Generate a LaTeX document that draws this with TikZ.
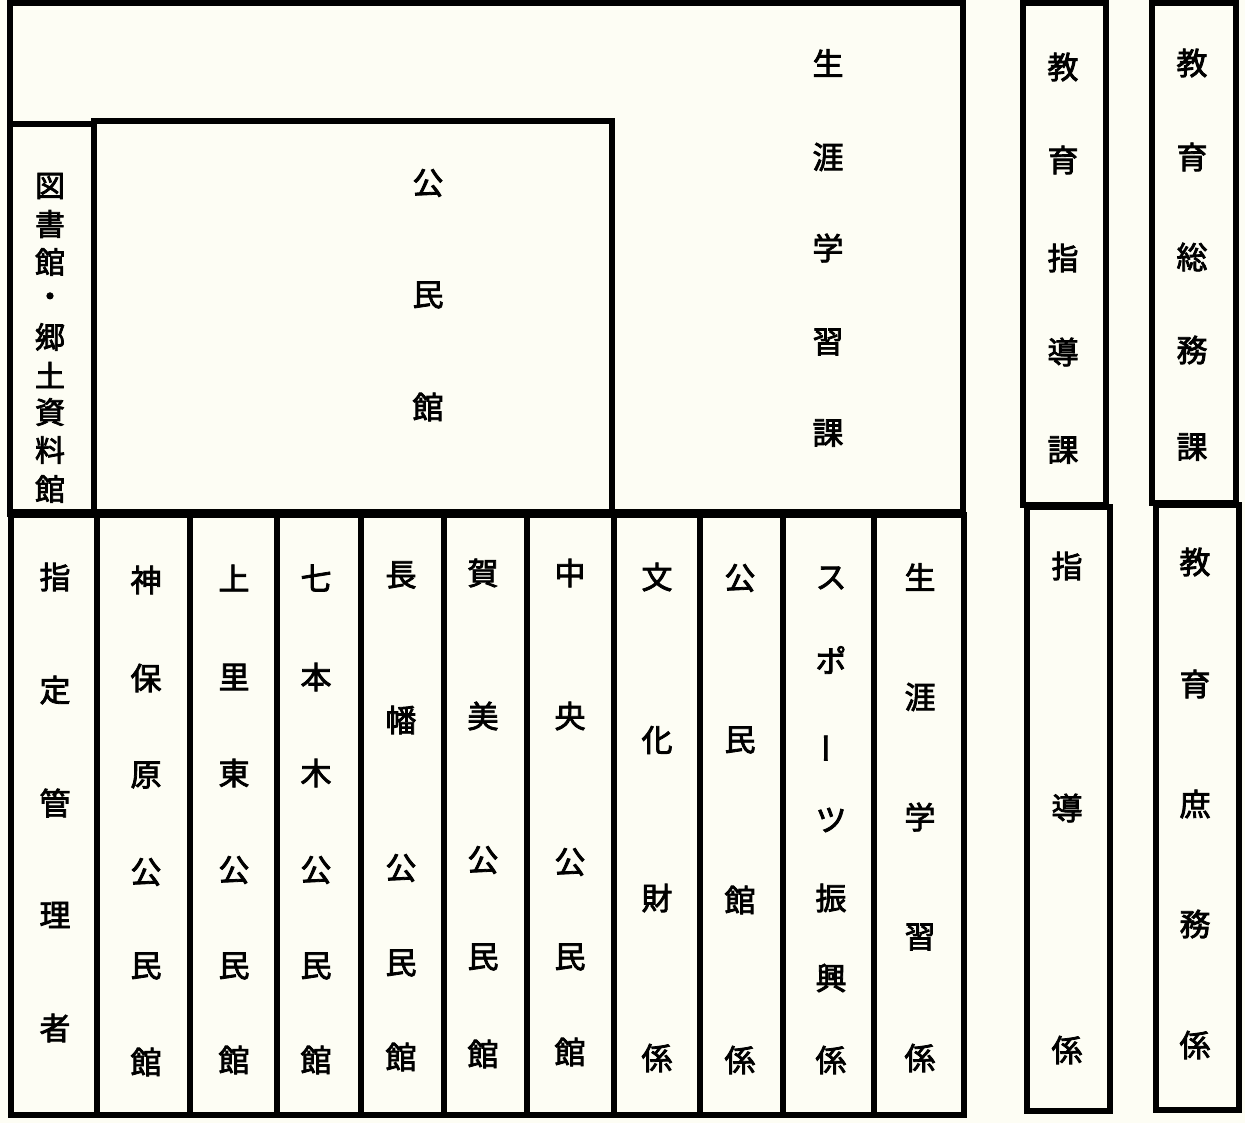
\documentclass[tikz,border=0pt]{standalone}
\usepackage{fontspec}
\newfontfamily\jpfont{Noto Sans CJK JP}[FakeBold=2.6]
\usetikzlibrary{positioning}
\definecolor{paper}{RGB}{253,253,244}
\tikzset{
  unitbox/.style={draw, line width=2.6pt, inner sep=0pt},
  kanji/.style={font=\jpfont\fontsize{15.5pt}{15.5pt}\selectfont, inner sep=0pt},
  smallkanji/.style={font=\jpfont\fontsize{15pt}{15pt}\selectfont, inner sep=0pt},
}

\begin{document}
\begin{tikzpicture}[x=0.5pt, y=-0.5pt]
  \fill[paper] (0,0) rectangle (1245,1123);
  \useasboundingbox (0,0) rectangle (1245,1123);
  % Top: the section and its two facilities
  \node[unitbox, minimum width=476.5pt, minimum height=254.5pt] at (486.5,257.5) (sec) {};
  \node[unitbox, minimum width=42pt, minimum height=195pt] at (52,319) (lib) {};
  \node[unitbox, minimum width=259pt, minimum height=195.5pt] at (353,316.5) (kmk) {};
  % Bottom row: halls and sub-units
  \node[unitbox, minimum width=43pt, minimum height=300pt] at (54,815) (c1) {};
  \node[unitbox, minimum width=46.5pt, minimum height=300pt] at (143.5,815) (c2) {};
  \node[unitbox, minimum width=43.5pt, minimum height=300pt] at (233.5,815) (c3) {};
  \node[unitbox, minimum width=42pt, minimum height=300pt] at (319,815) (c4) {};
  \node[unitbox, minimum width=41.5pt, minimum height=300pt] at (402.5,815) (c5) {};
  \node[unitbox, minimum width=41.5pt, minimum height=300pt] at (485.5,815) (c6) {};
  \node[unitbox, minimum width=43.5pt, minimum height=300pt] at (570.5,815) (c7) {};
  \node[unitbox, minimum width=43pt, minimum height=300pt] at (657,815) (c8) {};
  \node[unitbox, minimum width=41.5pt, minimum height=300pt] at (741.5,815) (c9) {};
  \node[unitbox, minimum width=45.5pt, minimum height=300pt] at (828.5,815) (c10) {};
  \node[unitbox, minimum width=45pt, minimum height=300pt] at (919,815) (c11) {};
  % Right: the other two sections
  \node[unitbox, minimum width=41.5pt, minimum height=251pt] at (1064.5,254) (shido) {};
  \node[unitbox, minimum width=41.5pt, minimum height=302pt] at (1068.5,809) (shidok) {};
  \node[unitbox, minimum width=42pt, minimum height=250pt] at (1194,253) (somu) {};
  \node[unitbox, minimum width=41.5pt, minimum height=302.5pt] at (1197.5,807.5) (shomu) {};
  % Labels, one glyph per line
  \foreach \ch/\y [count=\i] in {生/63,涯/157,学/248,習/342,課/433}
    \node[kanji] (sec-\i) at (828,\y) {\ch};
  \foreach \ch/\y [count=\i] in {図/186,書/224,館/262,・/300,郷/337,土/375,資/412,料/450,館/489}
    \node[smallkanji] (lib-\i) at (50,\y) {\ch};
  \foreach \ch/\y [count=\i] in {公/183,民/295,館/407}
    \node[kanji] (kmk-\i) at (428,\y) {\ch};
  \foreach \ch/\y [count=\i] in {指/577,定/690,管/803,理/915,者/1028}
    \node[kanji] (c1-\i) at (55,\y) {\ch};
  \foreach \ch/\y [count=\i] in {神/580,保/678,原/775,公/872,民/966,館/1062}
    \node[kanji] (c2-\i) at (146,\y) {\ch};
  \foreach \ch/\y [count=\i] in {上/578,里/677,東/773,公/870,民/966,館/1060}
    \node[kanji] (c3-\i) at (234,\y) {\ch};
  \foreach \ch/\y [count=\i] in {七/578,本/677,木/773,公/870,民/966,館/1060}
    \node[kanji] (c4-\i) at (316,\y) {\ch};
  \foreach \ch/\y [count=\i] in {長/575,幡/720,公/868,民/963,館/1057}
    \node[kanji] (c5-\i) at (401,\y) {\ch};
  \foreach \ch/\y [count=\i] in {賀/573,美/716,公/860,民/957,館/1054}
    \node[kanji] (c6-\i) at (483,\y) {\ch};
  \foreach \ch/\y [count=\i] in {中/573,央/716,公/862,民/957,館/1052}
    \node[kanji] (c7-\i) at (570,\y) {\ch};
  \foreach \ch/\y [count=\i] in {文/577,化/740,財/898,係/1058}
    \node[kanji] (c8-\i) at (657,\y) {\ch};
  \foreach \ch/\y [count=\i] in {公/578,民/740,館/900,係/1060}
    \node[kanji] (c9-\i) at (740,\y) {\ch};
  \foreach \ch/\y [count=\i] in {ス/578,ポ/660,{\rotatebox{90}{ー}}/748,ツ/820,振/898,興/978,係/1060}
    \node[kanji] (c10-\i) at (831,\y) {\ch};
  \foreach \ch/\y [count=\i] in {生/577,涯/697,学/817,習/937,係/1058}
    \node[kanji] (c11-\i) at (920,\y) {\ch};
  \foreach \ch/\y [count=\i] in {教/67,育/160,指/258,導/352,課/450}
    \node[kanji] (shido-\i) at (1063,\y) {\ch};
  \foreach \ch/\y [count=\i] in {指/566,導/808,係/1050}
    \node[kanji] (shidok-\i) at (1067,\y) {\ch};
  \foreach \ch/\y [count=\i] in {教/63,育/157,総/257,務/350,課/447}
    \node[kanji] (somu-\i) at (1192,\y) {\ch};
  \foreach \ch/\y [count=\i] in {教/562,育/684,庶/804,務/924,係/1045}
    \node[kanji] (shomu-\i) at (1195,\y) {\ch};
\end{tikzpicture}
\end{document}
